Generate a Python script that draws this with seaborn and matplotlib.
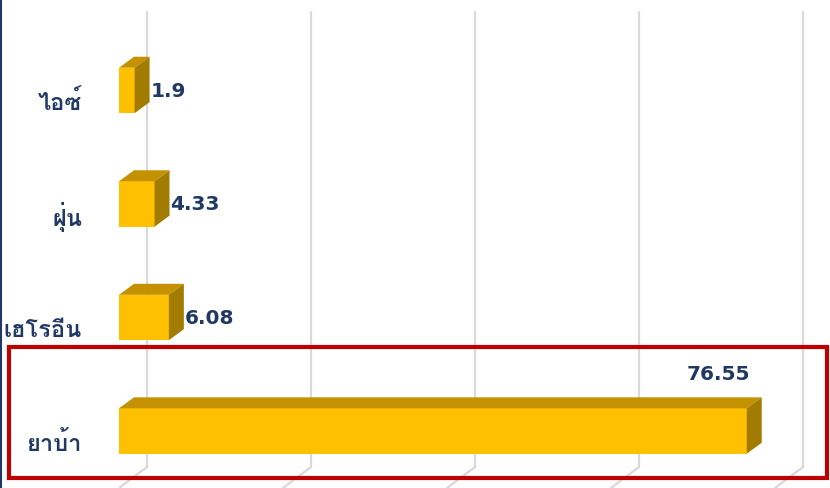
import numpy as np
import matplotlib
matplotlib.use("Agg")
import matplotlib.pyplot as plt
from matplotlib import font_manager
from matplotlib.ft2font import FT2Font
from matplotlib.patches import Polygon, Rectangle
from matplotlib.lines import Line2D
from matplotlib.transforms import ScaledTranslation, blended_transform_factory
import seaborn as sns
import pandas as pd

# ---------------- data ----------------
categories = ["ไอซ์", "ฝุ่น", "เฮโรอีน", "ยาบ้า"]
values = [1.9, 4.33, 6.08, 76.55]
value_labels = ["1.9", "4.33", "6.08", "76.55"]
grid_ticks = [0, 20, 40, 60, 80]

# ---------------- font with Thai glyphs ----------------
thai_font = None
for f in font_manager.fontManager.ttflist:
    try:
        cmap = FT2Font(f.fname).get_charmap()
    except Exception:
        continue
    if 0x0E22 in cmap and 0x0E49 in cmap:
        thai_font = f.name
        if "bold" in f.fname.lower():
            break
families = ([thai_font] if thai_font else []) + ["DejaVu Sans"]

sns.set_style("white")
plt.rcParams["font.family"] = families

W, H, DPI = 830, 488, 100
fig = plt.figure(figsize=(W / DPI, H / DPI), dpi=DPI)
x0px = 119
scale = 8.2  # px per unit
ax = fig.add_axes([x0px / W, 0, (W - x0px) / W, 1])

navy = "#1F3864"
front_c, top_c, side_c = "#FFC000", "#C49200", "#A27C00"

df = pd.DataFrame({"cat": categories, "val": values})
sns.barplot(data=df, x="val", y="cat", orient="h", width=0.4, color=front_c,
            saturation=1, ax=ax, zorder=3, linewidth=0)
ax.set_xlim(0, (W - x0px) / scale)
ax.set_ylim(3 + (H - 431) / 113.6, -90.5 / 113.6)

for s in ax.spines.values():
    s.set_visible(False)
ax.set_xlabel("")
ax.set_ylabel("")
ax.set_xticks([])
ax.tick_params(axis="y", length=0, pad=37 * 72 / DPI)
ax.set_yticks(range(len(categories)))
ax.set_yticklabels(categories, fontsize=17, color=navy, fontweight="bold")
for lab in ax.get_yticklabels():
    lab.set_transform(lab.get_transform() + ScaledTranslation(0, -10 / DPI, fig.dpi_scale_trans))

# px -> data conversions
px_x = (ax.get_xlim()[1] - ax.get_xlim()[0]) / ax.bbox.width
px_y = (ax.get_ylim()[0] - ax.get_ylim()[1]) / ax.bbox.height

# back-wall gridlines
gdx = 28
trans = blended_transform_factory(ax.transData, ax.transAxes)
for t in grid_ticks:
    xb = t + gdx * px_x
    ax.add_line(Line2D([xb, xb], [1 - 12 / H, 1 - 467 / H], transform=trans,
                       color="#D9D9D9", lw=1.6, zorder=1))
    ax.add_line(Line2D([xb, t], [1 - 467 / H, 0], transform=trans,
                       color="#D9D9D9", lw=1.6, zorder=1))

# 3D faces
bdx, bdy = 15 * px_x, -11 * px_y
for p, v, lab in zip(ax.patches[:len(values)], values, value_labels):
    xa, w = p.get_x(), p.get_width()
    ya, h = p.get_y(), p.get_height()
    ytop = min(ya, ya + h)
    ybot = max(ya, ya + h)
    top = Polygon([(xa, ytop), (xa + w, ytop), (xa + w + bdx, ytop + bdy), (xa + bdx, ytop + bdy)],
                  closed=True, facecolor=top_c, edgecolor="none", zorder=3)
    side = Polygon([(xa + w, ytop), (xa + w + bdx, ytop + bdy), (xa + w + bdx, ybot + bdy), (xa + w, ybot)],
                   closed=True, facecolor=side_c, edgecolor="none", zorder=3)
    ax.add_patch(top)
    ax.add_patch(side)
    yc = (ytop + ybot) / 2
    if v == max(values):
        ax.text(xa + w - 28 * px_x, ytop - 34 * px_y, lab, ha="center", va="center",
                fontsize=14.5, fontweight="bold", color=navy, family="DejaVu Sans", zorder=5)
    else:
        ax.text(xa + w + bdx + 1 * px_x, yc + 1 * px_y, lab, ha="left", va="center",
                fontsize=14.5, fontweight="bold", color=navy, family="DejaVu Sans", zorder=5)

# red highlight box and left border line
fig.patches.append(Rectangle((9 / W, 10 / H), 818 / W, 131 / H, transform=fig.transFigure,
                             fill=False, edgecolor="#C00000", lw=3, zorder=10))
fig.lines.append(Line2D([1 / W, 1 / W], [0, 1], transform=fig.transFigure, color=navy, lw=1.5))

fig.savefig("out.png", dpi=DPI)
